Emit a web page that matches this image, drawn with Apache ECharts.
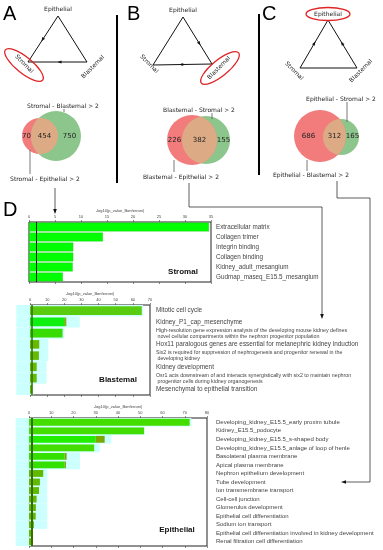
<!DOCTYPE html>
<html><head><meta charset="utf-8">
<script src="https://cdn.jsdelivr.net/npm/echarts@6/dist/echarts.min.js"></script>
<style>html,body{margin:0;padding:0;background:#fff}#c{width:383px;height:550px}</style>
</head><body><div id="c"></div><script>
// ---------- DATA ----------
const stromalCats = ['Extracellular matrix','Collagen trimer','Integrin binding','Collagen binding','Kidney_adult_mesangium','Gudmap_maseq_E15.5_mesangium'];
const stromalVals = [34.6, 14.2, 8.5, 8.5, 8.4, 6.5];

const blastCats = ['Mitotic cell cycle','Kidney_P1_cap_mesenchyme',
 'High-resolution gene expression analysis of the developing mouse kidney defines\n novel cellular compartments within the nephron progenitor population',
 'Hox11 paralogous genes are essential for metanephric kidney induction',
 'Six2 is required for suppression of nephrogenesis and progenitor renewal in the\n developing kidney',
 'Kidney development',
 'Osr1 acts downstream of and interacts synergistically with six2 to maintain nephron\n progenitor cells during kidney organogenesis',
 'Mesenchymal to epithelial transition'];
const blastMain = [65.2, 20.4, 19.0, 5.4, 5.2, 3.9, 3.9, 1.2];
const blastTail = [0, 0.8, 0, 0, 0, 0, 0, 0];
const blastBg   = [66, 29, 20, 10.7, 10.7, 9.7, 9.7, 2];
const blastBgNeg= [-8, -8, -8, -8, -8, -8, -8, -8];

const epiCats = ['Developing_kidney_E15.5_early proxim tubule','Kidney_E15.5_podocyte','Developing_kidney_E15.5_s-shaped body',
 'Developing_kidney_E15.5_anlage of loop of henle','Basolateral plasma membrane','Apical plasma membrane',
 'Nephron epithelium development','Tube development','Ion transmembrane transport','Cell-cell junction',
 'Glomerulus development','Epithelial cell differentiation','Sodium ion transport',
 'Epithelial cell differentiation involved in kidney development','Renal filtration cell differentiation'];
const epiMain = [72.2, 51.7, 30, 29.3, 16, 16, 6.4, 4.9, 4.5, 3.4, 3.1, 3.0, 2.2, 1.3, 1.3];
const epiTail = [0, 0, 4, 0, 0.9, 0.6, 0, 0, 0, 0, 0, 0, 0, 0, 0];
const epiBg   = [73, 52, 37, 31.8, 22.9, 22.9, 8.2, 8.2, 8.2, 8.2, 8.2, 8.2, 8.2, 1.5, 1.5];
const epiBgNeg= [-6, -6, -6, -6, -6, -6, -6, -6, -6, -6, -6, -6, -6, -6, -6];

const threshold = 1.3;
const vennA = [70, 454, 750];
const vennB = [226, 382, 155];
const vennC = [686, 312, 165];
const axisTitle = '-log10(p_value_Bonferroni)';

// ---------- STYLE ----------
const blastColors = ['#5acc10','#10f010','#38dc00','#66bb00','#66bb00','#66bb00','#66bb00','#66bb00'];
const epiColors = ['#44dd00','#44dd00','#22ee00','#44dd00','#33e000','#33e000','#60bb00','#60bb00','#60bb00','#60bb00','#60bb00','#60bb00','#60bb00','#60bb00','#60bb00'];
const TF = 'Liberation Sans, Arial, sans-serif';
const DV = 'DejaVu Sans, sans-serif';

const chart = echarts.init(document.getElementById('c'));

const grids = [
  {left:29, top:222, width:182, height:60},
  {left:30, top:305, width:120, height:90},
  {left:29, top:418, width:178, height:128}
].map(g => Object.assign({show:true, borderColor:'#222', borderWidth:1, backgroundColor:'transparent'}, g));

function topAxis(gi, max, interval){
  return {gridIndex:gi, type:'value', position:'top', min:0, max, interval,
    name: axisTitle, nameLocation:'middle', nameGap:9,
    nameTextStyle:{fontSize:4, color:'#444', fontFamily:TF},
    axisLine:{show:false}, splitLine:{show:false},
    axisTick:{show:true, length:2, lineStyle:{color:'#444', width:0.6}},
    axisLabel:{fontSize:4, color:'#444', margin:3, fontFamily:TF}};
}
function botAxis(gi, max, interval){
  return {gridIndex:gi, type:'value', position:'bottom', min:0, max, interval,
    axisLine:{show:false}, splitLine:{show:false}, axisLabel:{show:false},
    axisTick:{show:true, length:2, lineStyle:{color:'#444', width:0.6}}};
}
function catAxis(gi, cats, margin, fmt, rich, fs){
  return {gridIndex:gi, type:'category', data:cats, inverse:true, position:'right',
    axisLine:{show:false},
    axisTick:{show:true, length:2, alignWithLabel:true, lineStyle:{color:'#444', width:0.6}},
    axisLabel:{margin, fontSize:fs, color:'#444', fontFamily:TF, formatter:fmt, rich, interval:0}};
}
function hiddenCat(gi, cats){
  return {gridIndex:gi, type:'category', data:cats, inverse:true, show:false};
}
const blastFmt = v => v.indexOf('\n') >= 0 ? v.split('\n').map(s => '{s|' + s + '}').join('\n') : '{b|' + v + '}';

const xAxis = [topAxis(0,35,5), botAxis(0,35,5), topAxis(1,70,10), botAxis(1,70,10), topAxis(2,80,10), botAxis(2,80,10)];
const yAxis = [
  catAxis(0, stromalCats, 5, null, null, 6.3),
  catAxis(1, blastCats, 6, blastFmt, {b:{fontSize:6.4, color:'#444', fontFamily:TF, lineHeight:8}, s:{fontSize:5.3, color:'#444', fontFamily:TF, lineHeight:6}}, 6.4),
  hiddenCat(1, blastCats),
  catAxis(2, epiCats, 9, null, null, 6.0),
  hiddenCat(2, epiCats)
];

const mk = (color, width) => ({silent:true, symbol:'none', label:{show:false},
  lineStyle:{color, width, type:'solid'}, data:[{xAxis:threshold}]});

const series = [
  {type:'bar', xAxisIndex:0, yAxisIndex:0, data:stromalVals, barWidth:'88%', z:3,
   itemStyle:{color:'#00ff00', borderColor:'#22aa22', borderWidth:0.3}, markLine:mk('#111',1)},
  // blastemal
  {type:'bar', xAxisIndex:2, yAxisIndex:2, stack:'bc', data:blastBgNeg, barWidth:'100%', clip:false, z:1, itemStyle:{color:'#ccffff'}},
  {type:'bar', xAxisIndex:2, yAxisIndex:2, stack:'bc', data:blastBg, barWidth:'100%', clip:false, z:1, itemStyle:{color:'#ccffff'}},
  {type:'bar', xAxisIndex:2, yAxisIndex:1, stack:'bg', data:blastMain.map((v,i)=>({value:v, itemStyle:{color:blastColors[i]}})),
   barWidth:'76%', z:3, markLine:mk('#3a6a00',1.5)},
  {type:'bar', xAxisIndex:2, yAxisIndex:1, stack:'bg', data:blastTail, barWidth:'76%', z:3, itemStyle:{color:'#d08a20'}},
  // epithelial
  {type:'bar', xAxisIndex:4, yAxisIndex:4, stack:'ec', data:epiBgNeg, barWidth:'100%', clip:false, z:1, itemStyle:{color:'#ccffff'}},
  {type:'bar', xAxisIndex:4, yAxisIndex:4, stack:'ec', data:epiBg, barWidth:'100%', clip:false, z:1, itemStyle:{color:'#ccffff'}},
  {type:'bar', xAxisIndex:4, yAxisIndex:3, stack:'eg', data:epiMain.map((v,i)=>({value:v, itemStyle:{color:epiColors[i]}})),
   barWidth:'80%', z:3, markLine:mk('#3a6a00',2)},
  {type:'bar', xAxisIndex:4, yAxisIndex:3, stack:'eg', data:epiTail, barWidth:'80%', z:3, itemStyle:{color:'#7aa800'}}
];

// ---------- DECORATION ----------
const G = [];
function txt(x, y, s, font, opt){
  opt = opt || {};
  G.push({type:'text', x, y, rotation:opt.rot||0, z:10,
    style:{text:s, font, fill:opt.fill||'#222', align:opt.align||'center', verticalAlign:'middle'}});
}
function line(pts, w, c){
  G.push({type:'polyline', z:9, shape:{points:pts}, style:{stroke:c||'#333', lineWidth:w||1, fill:null}});
}
function head(x, y, ang, len, w){
  const c = Math.cos(ang), s = Math.sin(ang);
  const bx = x - len*c, by = y - len*s;
  G.push({type:'polygon', z:11, shape:{points:[[x,y],[bx - w*s, by + w*c],[bx + w*s, by - w*c]]}, style:{fill:'#111'}});
}
function edgeArrow(P, Q, t){
  const x = P[0] + (Q[0]-P[0])*t, y = P[1] + (Q[1]-P[1])*t;
  head(x, y, Math.atan2(Q[1]-P[1], Q[0]-P[0]), 4, 1.6);
}
function ellipse(cx, cy, rx, ry, rot){
  G.push({type:'ellipse', x:cx, y:cy, rotation:rot, z:12, shape:{cx:0, cy:0, rx, ry}, style:{fill:null, stroke:'#e02424', lineWidth:1.3}});
}
function triangle(T, L, R){
  line([T, L, R, T], 1, '#111');
}
function venn(c1, c2, cols, counts, top){
  const [x1,y1,r1] = c1, [x2,y2,r2] = c2;
  const first = top === 'green' ? [c1, cols[0]] : [c2, cols[1]];
  const second = top === 'green' ? [c2, cols[1]] : [c1, cols[0]];
  [first, second].forEach(([c, col]) => G.push({type:'circle', z:5, shape:{cx:c[0], cy:c[1], r:c[2]}, style:{fill:col}}));
  const d = x2 - x1, a = (r1*r1 - r2*r2 + d*d)/(2*d), h = Math.sqrt(r1*r1 - a*a);
  const a1 = Math.atan2(h, a), a2 = Math.atan2(h, d - a), pts = [];
  for (let i=0;i<=40;i++){ const t = -a1 + 2*a1*i/40; pts.push([x1 + r1*Math.cos(t), y1 + r1*Math.sin(t)]); }
  for (let i=0;i<=40;i++){ const t = Math.PI - a2 + 2*a2*i/40; pts.push([x2 + r2*Math.cos(t), y2 + r2*Math.sin(t)]); }
  G.push({type:'polygon', z:6, shape:{points:pts}, style:{fill:'#dcaa84'}});
  const xc = (Math.max(x1 - r1, x2 - r2) + Math.min(x1 + r1, x2 + r2))/2;
  txt((x1 - r1 + (x2 - r2))/2 , y1, String(counts[0]), '7px ' + DV);
  txt(xc, y1, String(counts[1]), '7px ' + DV);
  txt(((x1 + r1) + (x2 + r2))/2, y1, String(counts[2]), '7px ' + DV);
}
const RED = '#f27c7c', GREEN = '#8cc68c';
const PI = Math.PI;

// panel letters
txt(3, 14, 'A', '20px ' + TF, {align:'left', fill:'#000'});
txt(127, 14, 'B', '20px ' + TF, {align:'left', fill:'#000'});
txt(262, 14, 'C', '20px ' + TF, {align:'left', fill:'#000'});
txt(3, 210, 'D', '20px ' + TF, {align:'left', fill:'#000'});

// separators
line([[117,15],[117,183]], 2, '#000');
line([[259,14],[259,175]], 2, '#000');

// A triangle
let T=[58,16], L=[28,62], R=[87,62];
triangle(T,L,R); edgeArrow(T,L,0.55); edgeArrow(R,L,0.5);
txt(58, 9, 'Epithelial', '6px ' + DV);
txt(24, 64, 'Stromal', '6px ' + DV, {rot:-PI/4});
txt(93, 67, 'Blastemal', '6px ' + DV, {rot:PI/4});
ellipse(24, 65, 24, 8, -0.68);
// B triangle
T=[183,17]; L=[153,65]; R=[212,64];
triangle(T,L,R); edgeArrow(T,R,0.6); edgeArrow(L,R,0.55);
txt(183, 10, 'Epithelial', '6px ' + DV);
txt(149, 64, 'Stromal', '6px ' + DV, {rot:-PI/4});
txt(219, 68, 'Blastemal', '6px ' + DV, {rot:PI/4});
ellipse(220, 68, 24, 8, 0.68);
// C triangle
T=[328,20]; L=[300,68]; R=[357,68];
triangle(T,L,R); edgeArrow(L,T,0.55); edgeArrow(R,T,0.55);
txt(328, 14, 'Epithelial', '6px ' + DV);
txt(294, 71, 'Stromal', '6px ' + DV, {rot:-PI/4});
txt(361, 71, 'Blastemal', '6px ' + DV, {rot:PI/4});
ellipse(328, 14, 22, 6.5, 0);

// Venns
venn([40,136,18],[56,136,25],[RED,GREEN], vennA, 'green');
txt(63, 106, 'Stromal - Blastemal > 2', '6px ' + DV);
line([[64,109],[64,112]], 0.8, '#555');
txt(45, 179, 'Stromal - Epithelial > 2', '6px ' + DV);
line([[30,150],[30,174]], 0.8, '#555');

venn([192,140,25],[206,140,24],[RED,GREEN], vennB, 'red');
txt(199, 110, 'Blastemal - Stromal > 2', '6px ' + DV);
line([[212,113],[212,119]], 0.8, '#555');
txt(181, 177, 'Blastemal - Epithelial > 2', '6px ' + DV);
line([[174,160],[174,172]], 0.8, '#555');

venn([320,136,26],[341,137,18],[RED,GREEN], vennC, 'red');
txt(341, 99, 'Epithelial - Stromal > 2', '6px ' + DV);
line([[347,102],[347,122]], 0.8, '#555');
txt(311, 175, 'Epithelial - Blastemal > 2', '6px ' + DV);
line([[307,160],[307,171]], 0.8, '#555');

// connectors to D
line([[55,188],[55,210]], 0.8, '#333'); head(55, 214, PI/2, 5, 1.8);
line([[189,183],[189,207],[322,207],[322,314]], 0.8, '#333'); head(322, 319, PI/2, 5, 1.8);
line([[337,181],[337,198],[370,198],[370,482],[346,482]], 0.8, '#333'); head(341, 482, PI, 5, 1.8);

// panel titles
txt(183, 272, 'Stromal', 'bold 8px ' + TF, {fill:'#111'});
txt(118, 380, 'Blastemal', 'bold 8px ' + TF, {fill:'#111'});
txt(177, 530, 'Epithelial', 'bold 8px ' + TF, {fill:'#111'});

chart.setOption({animation:false, backgroundColor:'#fff', grid:grids, xAxis, yAxis, series, graphic:{elements:G}});
</script></body></html>
